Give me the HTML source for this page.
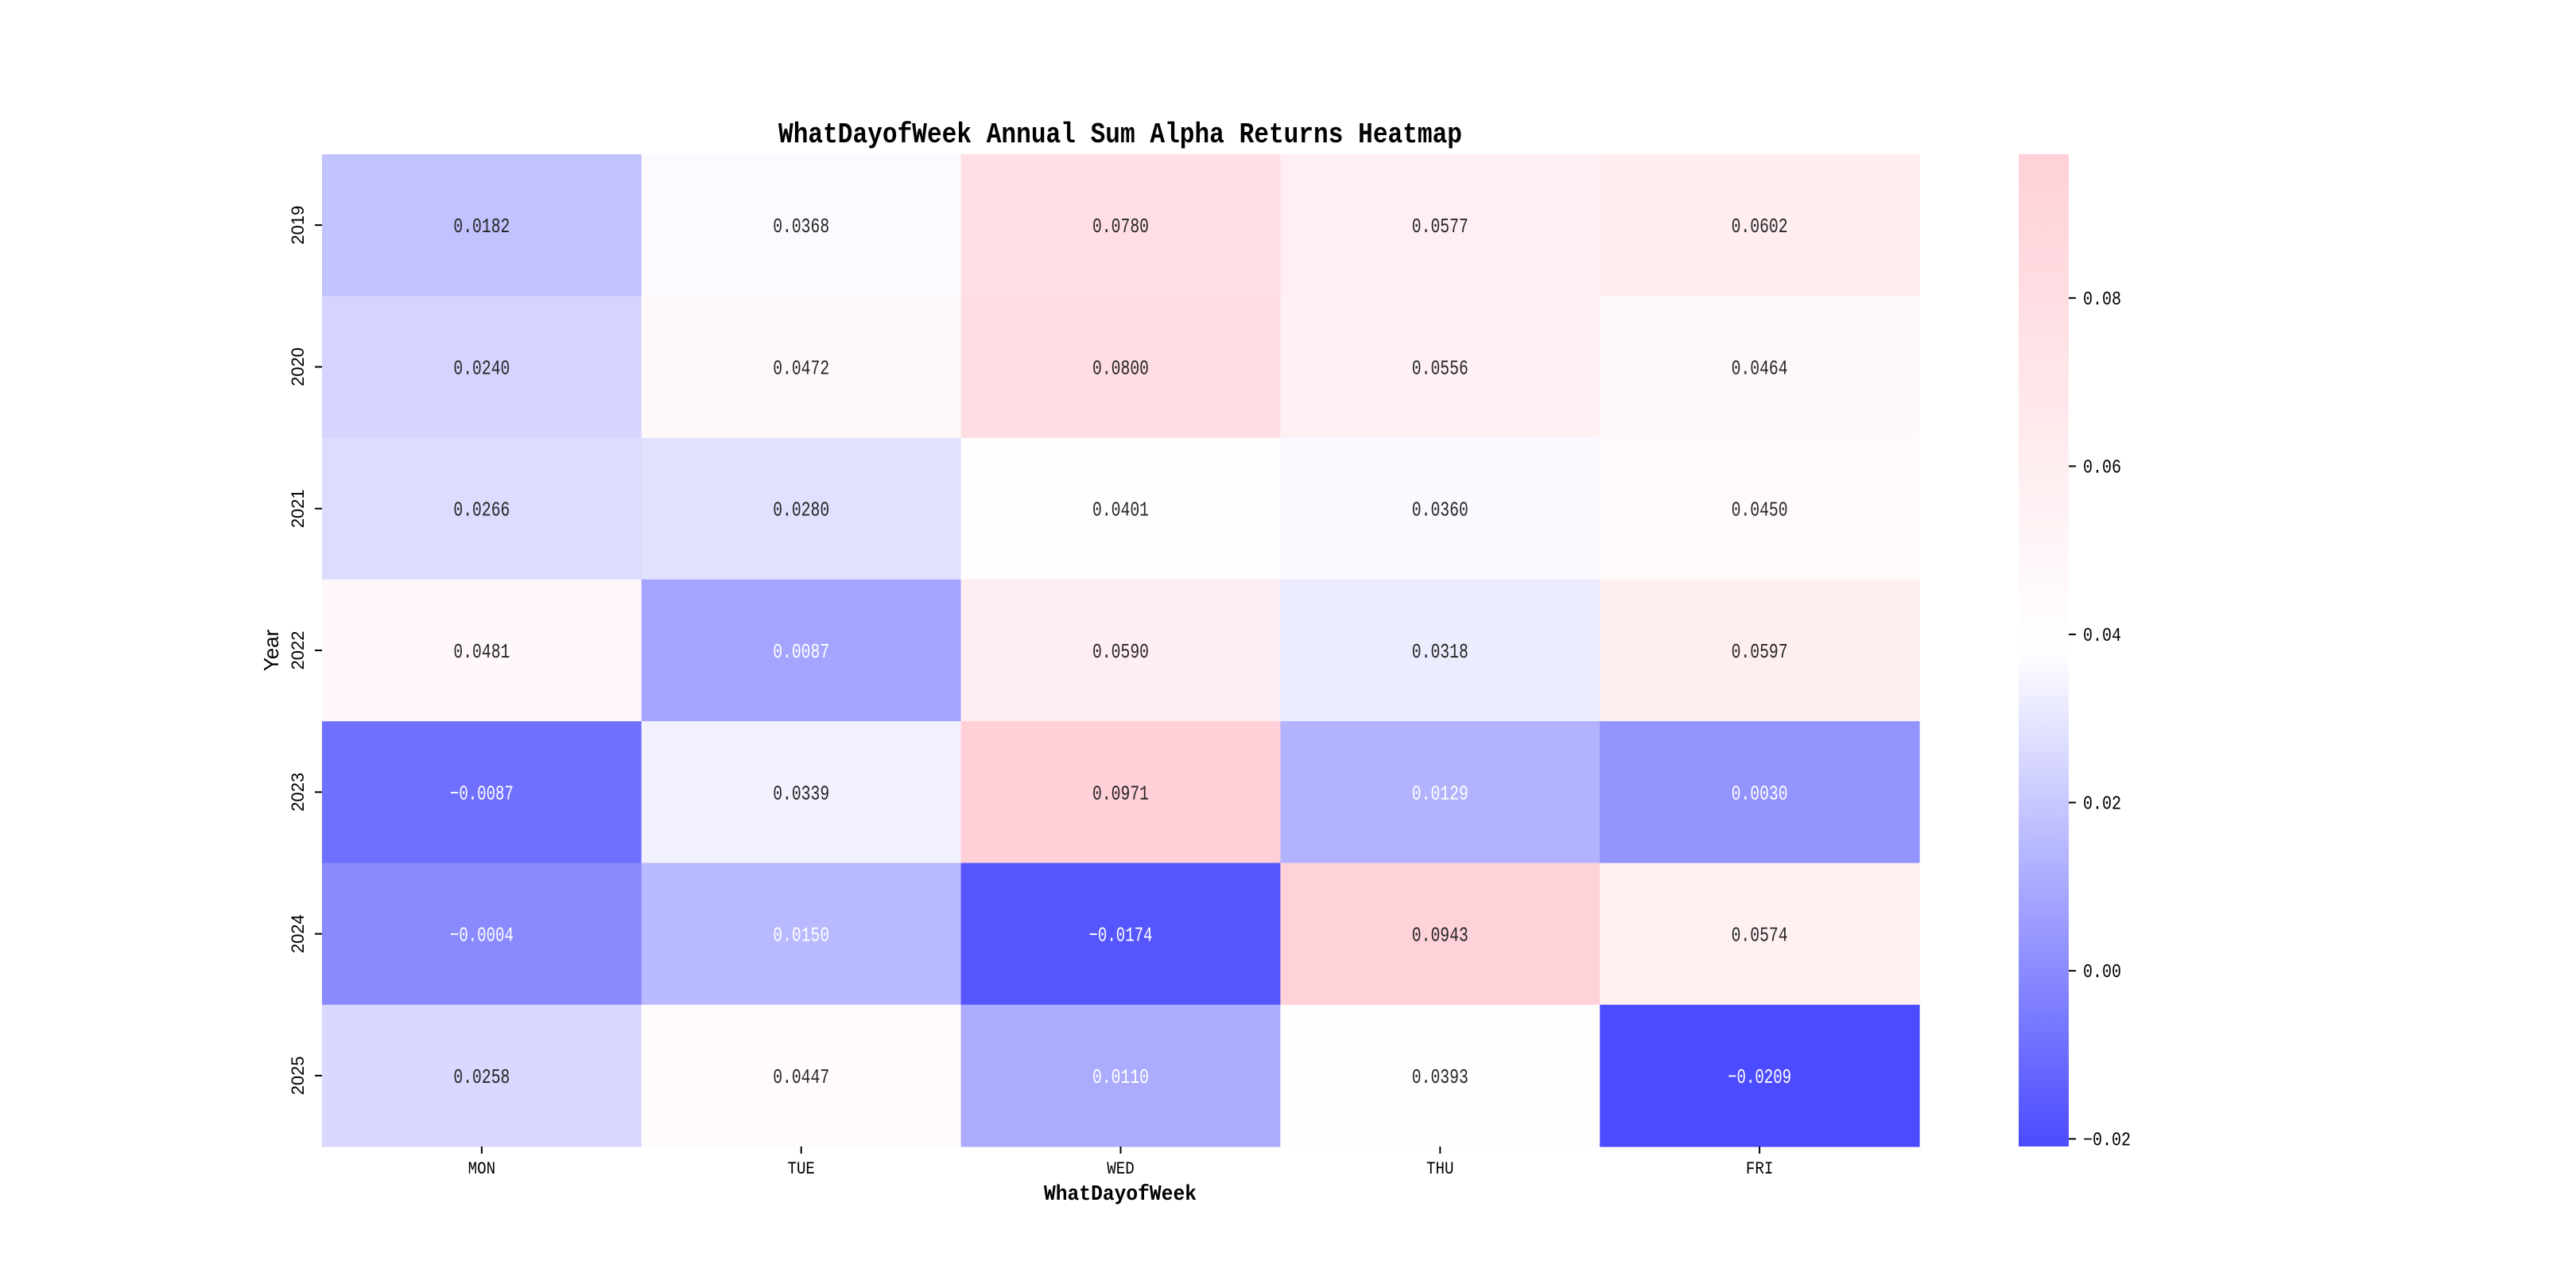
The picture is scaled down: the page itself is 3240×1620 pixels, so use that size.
<!DOCTYPE html>
<html><head><meta charset="utf-8"><style>
html,body{margin:0;padding:0;background:#fff;}
svg{display:block;}
.cj{font-family:"Liberation Mono","WenQuanYi Zen Hei",monospace;}
</style></head><body>
<svg id="chart" width="3240" height="1620" viewBox="0 0 3240 1620" xmlns="http://www.w3.org/2000/svg">
<rect width="3240" height="1620" fill="#fff"/>
<g id="cells"></g>
<g id="labels"></g>
<g id="xaxis"></g>
<g id="yaxis"></g>
<g id="cbar"></g>
<text x="1409" y="179" text-anchor="middle" font-size="36" font-weight="bold" textLength="860" lengthAdjust="spacingAndGlyphs" class="cj">WhatDayofWeek Annual Sum Alpha Returns Heatmap</text>
<text x="1409" y="1509" text-anchor="middle" font-size="27" font-weight="bold" textLength="192" lengthAdjust="spacingAndGlyphs" class="cj">WhatDayofWeek</text>
<text transform="translate(350,818) rotate(-90)" text-anchor="middle" font-size="26" font-family="Liberation Sans, sans-serif">Year</text>
</svg>
<script>
const days = ["MON","TUE","WED","THU","FRI"];
const years = ["2019","2020","2021","2022","2023","2024","2025"];
const valMON = [0.0182,0.0240,0.0266,0.0481,-0.0087,-0.0004,0.0258];
const valTUE = [0.0368,0.0472,0.0280,0.0087,0.0339,0.0150,0.0447];
const valWED = [0.0780,0.0800,0.0401,0.0590,0.0971,-0.0174,0.0110];
const valTHU = [0.0577,0.0556,0.0360,0.0318,0.0129,0.0943,0.0393];
const valFRI = [0.0602,0.0464,0.0450,0.0597,0.0030,0.0574,-0.0209];
const cbarTicks = [-0.02,0.00,0.02,0.04,0.06,0.08];
const cbarTickLabels = ["-0.02","0.00","0.02","0.04","0.06","0.08"];

const NS="http://www.w3.org/2000/svg";
const series=[valMON,valTUE,valWED,valTHU,valFRI];
const all=series.flat();
const vmin=Math.min(...all), vmax=Math.max(...all), vmid=(vmin+vmax)/2;
const L=405,R=2414,T=194,B=1442;
const cw=(R-L)/days.length, rh=(B-T)/years.length;
const xPos=i=>L+cw*i, yPos=j=>T+rh*j;
const lo=[75,75,255], mid=[255,255,255], hi=[255,208,215];
function color(v){
  let a,b,t;
  if(v<=vmid){a=lo;b=mid;t=(v-vmin)/(vmid-vmin);} else {a=mid;b=hi;t=(v-vmid)/(vmax-vmid);}
  t=Math.max(0,Math.min(1,t));
  const c=a.map((x,k)=>Math.round(x+(b[k]-x)*t));
  return `rgb(${c[0]},${c[1]},${c[2]})`;
}
function lum(v){const m=color(v).match(/\d+/g).map(Number).map(c=>{c/=255;return c<=0.03928?c/12.92:Math.pow((c+0.055)/1.055,2.4);});return 0.2126*m[0]+0.7152*m[1]+0.0722*m[2];}
function mk(tag,attrs,parent){const e=document.createElementNS(NS,tag);for(const k in attrs)e.setAttribute(k,attrs[k]);parent.appendChild(e);return e;}
const gC=document.getElementById('cells'), gL=document.getElementById('labels');
series.forEach((vals,i)=>{
  vals.forEach((v,j)=>{
    const r=mk('rect',{x:xPos(i),y:yPos(j),width:cw+0.6,height:rh+0.6,fill:color(v)},gC);
    
    
    const s=(v<0?"\u22120.":"0.")+Math.abs(v).toFixed(4).slice(2);
    const t=mk('text',{x:xPos(i)+cw/2,y:yPos(j)+rh/2+9,'text-anchor':'middle','font-size':26,'class':'cj',fill:lum(v)<0.55?'#fff':'#262626',textLength:v<0?80:71,lengthAdjust:'spacingAndGlyphs'},gL);
    t.textContent=s;
    
    
  });
});
const gX=document.getElementById('xaxis');
days.forEach((d,i)=>{
  const cx=xPos(i)+cw/2;
  const tk=mk('line',{x1:cx,x2:cx,y1:B,y2:B+9,stroke:'#000','stroke-width':2},gX);
  
  
  const t=mk('text',{x:cx,y:1476,'text-anchor':'middle','font-size':22,'class':'cj',textLength:d.length*11.5,lengthAdjust:'spacingAndGlyphs'},gX);
  t.textContent=d;
  
  
});
const gY=document.getElementById('yaxis');
years.forEach((y,j)=>{
  const cy=yPos(j)+rh/2;
  const tk=mk('line',{x1:L-9,x2:L,y1:cy,y2:cy,stroke:'#000','stroke-width':2},gY);
  
  
  const t=mk('text',{transform:`translate(382,${cy}) rotate(-90)`,'text-anchor':'middle','font-size':22,'font-family':'Liberation Sans, sans-serif'},gY);
  t.textContent=y;
  
  
});
const gB=document.getElementById('cbar');
const CL=2539,CR=2602;
const cbY=v=>B-(v-vmin)/(vmax-vmin)*(B-T);
const defs=mk('defs',{},gB);
const grad=mk('linearGradient',{id:'cg',x1:0,y1:1,x2:0,y2:0},defs);
mk('stop',{offset:'0',  'stop-color':color(vmin)},grad);
mk('stop',{offset:'0.5','stop-color':color(vmid)},grad);
mk('stop',{offset:'1',  'stop-color':color(vmax)},grad);
const cb=mk('rect',{x:CL,y:T,width:CR-CL,height:B-T,fill:'url(#cg)'},gB);


cbarTicks.forEach((v,k)=>{
  const y=cbY(v);
  const tk=mk('line',{x1:CR,x2:CR+9,y1:y,y2:y,stroke:'#000','stroke-width':2},gB);
  
  
  const s=cbarTickLabels[k].replace('-','\u2212');
  const t=mk('text',{x:2620,y:y+8,'font-size':24,'class':'cj',textLength:s.length*12,lengthAdjust:'spacingAndGlyphs'},gB);
  t.textContent=s;
  
  
});
</script>
</body></html>
